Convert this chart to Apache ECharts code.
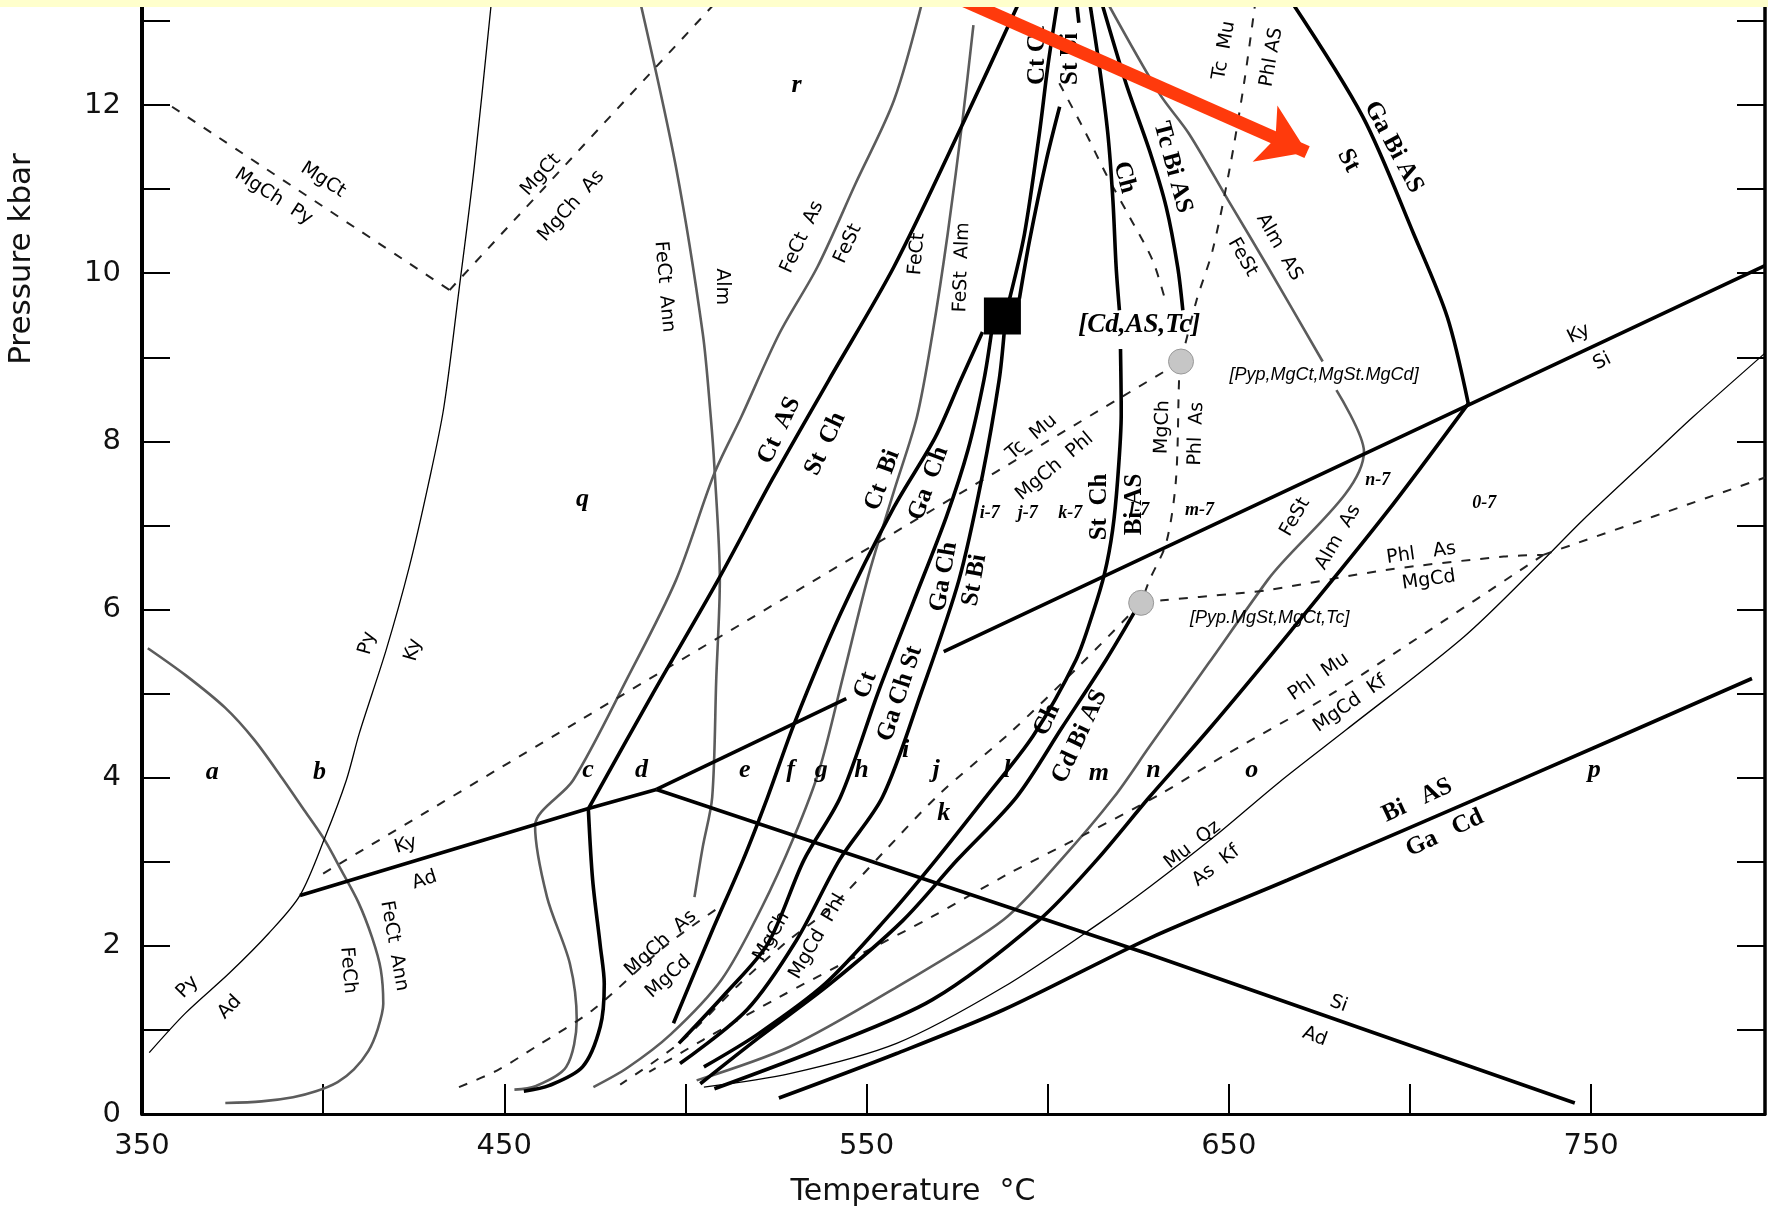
<!DOCTYPE html>
<html><head><meta charset="utf-8">
<script src="https://cdn.jsdelivr.net/npm/echarts/dist/echarts.min.js"></script>
<style>html,body{margin:0;padding:0;background:#fff}#c{width:1768px;height:1210px}</style>
</head><body><div id="c"></div>
<script>
// ---- axis ranges ----
const T_MIN = 350, T_MAX = 798, P_MIN = 0, P_MAX = 13.25;

// ---- thick reaction curves [T degC, P kbar] ----
const kyAd = [[393.6,2.60],[473,3.63],[492,3.86]];
const siAd = [[492,3.86],[628,1.9],[745.5,0.13]];
const kySi1 = [[492,3.86],[544.4,4.94]];
const kySi2 = [[571.3,5.50],[795.5,10.04],[798,10.09]];
const gaBiAS = [[667,13.25],[687,11.86],[701,10.47],[710.3,9.48],[716.1,8.45]];
const almAS = [[716.1,8.45],[693.3,7.14],[667.2,5.75],[644.4,4.57],[628.1,3.77],[613.5,3.02],[597.7,2.31],[568.2,1.36],[538.6,0.80],[508,0.30]];
const biASGaCd = [[794.4,5.18],[730.3,3.97],[666.1,2.78],[628.1,2.09],[587.8,1.24],[558.3,0.72],[525.8,0.19]];
const cLine = [[473.2,3.63],[474.4,2.78],[476.5,2.0],[477.6,1.55],[476.5,1.04],[471.6,0.56],[462.5,0.34],[455.4,0.27]];
const ctAS = [[473.2,3.63],[491,5.0],[509,6.35],[524,7.55],[539.6,8.73],[557.6,10.08],[576.6,11.78],[592.4,13.25]];
const ctBiGaCh = [[582,9.3],[576,8.73],[569,8.05],[557.6,7.22],[542.8,5.95],[530.1,4.65],[522.7,3.77],[515.9,3.02],[507.1,2.15],[496.7,1.08]];
const ctGaChSt = [[584.5,9.3],[582.4,8.73],[578,7.9],[572,7.1],[563,6.1],[553.4,5.04],[542.8,3.77],[532.7,3.02],[522.8,2.03],[511,1.43],[498.2,0.84]];
const gaChStBi = [[588,9.3],[586.6,8.73],[582,7.6],[575.5,6.35],[565,5.0],[554.4,3.77],[542.5,3.02],[530.7,2.07],[517,1.24],[498.5,0.60]];
const sqUp1 = [[589.5,9.7],[593.6,10.47],[597.7,11.66],[600,12.45],[602.8,13.25]];
const sqUp2 = [[592.2,9.7],[595,10.39],[599.6,11.34],[603.3,11.98]];
const sqStub = [[607.9,13.25],[608.6,12.98]];
const chUpper = [[611.5,13.25],[614.3,12.45],[616.6,11.66],[618,10.87],[618.9,10.07],[619.8,9.56]];
const chLower = [[620.1,9.10],[620.3,8.33],[619.3,7.54],[617.9,6.94],[615.7,6.43],[612.4,5.95],[607.8,5.40],[596,4.5],[582.9,3.77],[569.1,3.02],[556,2.35],[538.6,1.55],[520,0.95],[505.1,0.56]];
const chCdBiAS = [[625.3,6.07],[616.1,5.40],[604,4.6],[591.4,3.77],[575,3.02],[560,2.3],[540,1.55],[520,0.9],[504.1,0.36]];
const tcBiAS = [[614.7,13.25],[621.6,12.26],[628.1,11.46],[632.7,10.79],[635.9,10.07],[637.3,9.56]];

// ---- grey (Fe-system) curves ----
const gFeCtAnnLow = [[351.6,5.54],[362,5.22],[373,4.83],[381,4.45],[388.6,4.0],[395,3.6],[400.4,3.26],[405,2.9],[409.7,2.52],[413.5,2.1],[415.9,1.72],[416.6,1.31],[415,1.0],[412.5,0.75],[408.5,0.53],[404,0.38],[398,0.27],[391.7,0.20],[383,0.15],[373,0.13]];
const gFeCtAnnAlm = [[487.4,13.25],[497.4,11.26],[504.8,9.28],[507,8.29],[508,7.70],[509.5,6.35],[508.5,5.16],[507.4,3.77],[504.8,3.18],[502.5,2.58]];
const gFeCtAsFeSt = [[565.5,13.25],[557.6,12.06],[547,11.07],[536.5,10.08],[525.9,9.28],[515.4,8.29],[508,7.62],[497.4,6.35],[483.7,5.16],[469,3.97],[458.5,3.43],[461.8,2.58],[468.1,1.79],[470,1.12],[467.1,0.56],[458.6,0.33],[452.8,0.29]];
const gFeCtFeStAlm = [[579.5,12.95],[576.6,11.86],[572.4,10.47],[568.2,9.28],[563.9,8.29],[557.5,7.4],[550.5,6.4],[543.5,5.2],[537,4.1],[530,3.3],[521,2.45],[510,1.6],[496,0.95],[484,0.55],[474.6,0.32]];
const gAlmASUpper = [[616.1,13.25],[630.8,12.14],[639,11.66],[649.8,10.87],[660.7,10.08],[675.9,8.95]];
const gAlmASLower = [[679.7,8.61],[687.3,7.88],[660.7,6.35],[644.4,5.36],[628.1,4.37],[618.3,3.77],[603.6,3.02],[587.8,2.31],[558.3,1.51],[528.8,0.80],[503.1,0.40]];

// ---- thin curves ----
const pyAdKy = [[352,0.73],[362,1.2],[374.2,1.68],[385,2.15],[393.6,2.60],[400.6,3.3],[406.4,3.97],[410,4.53],[417.4,5.52],[423.8,6.51],[429.1,7.5],[433.3,8.4],[437.5,9.8],[441.7,11.26],[446.5,13.25]];
const muQzAsKf = [[798,9.05],[778.1,8.29],[769.4,7.94],[747.6,7.06],[736.8,6.59],[715,5.68],[682.4,4.57],[664,3.95],[646,3.3],[628.1,2.70],[614.3,2.27],[587.8,1.51],[558.3,0.84],[528.8,0.48],[505.1,0.32]];

// ---- dashed (Mg-system) curves ----
const dMgCtPy = [[358.3,11.98],[434.9,9.80]];
const dMgCtAs = [[434.9,9.80],[509,13.25]];
const dTcMuPhl = [[400,2.86],[470,4.66],[547,6.64],[636.8,8.95]];
const dTcMuPhlAS = [[636.8,8.95],[641.1,9.68],[645.5,10.27],[650.3,11.26],[654.2,12.26],[657.4,13.25]];
const dMgChPhlAs = [[636.8,8.95],[636.3,8.77],[635.4,7.54],[632.7,6.79],[628.1,6.35],[625.8,6.08]];
const dCh = [[603.2,12.26],[610.6,11.66],[616.1,11.18],[622.6,10.67],[629,10.15],[632.7,9.64]];
const dPhlAsMgCd = [[625.8,6.08],[631.7,6.11],[652,6.19],[660.7,6.23],[693.3,6.47],[725.9,6.63],[736.8,6.65]];
const dUpRight = [[736.8,6.65],[798,7.57]];
const dPhlMuKf = [[736.8,6.65],[704.2,5.72],[677,4.96],[649.8,4.29],[631.3,3.81],[610,3.32],[589.3,2.86],[568.2,2.35],[547,1.87],[525.9,1.39],[504.8,0.88],[490,0.5]];
const dMgChMgCdPhl = [[625.8,6.08],[608,5.3],[590,4.55],[570,3.8],[554.4,3.1],[540,2.45],[528,2.05],[515,1.55],[498.5,0.85],[482,0.35]];
const dMgChAsMgCd = [[437.5,0.32],[448.1,0.52],[458.7,0.80],[474.5,1.24],[494.2,1.99],[509,2.45]];

// ---- point markers ----
const invariantSquare = [[587.5,9.49]];
const greyDots = [[636.8,8.95],[625.8,6.08]];
const arrowCoords = [[576.5,13.25],[671.6,11.44]];

// ---- labels [text, T, P, rotation] ----
const sansLabels = [
  ['MgCt',400,11.11,-33],['MgCh  Py',386.3,10.91,-33],
  ['MgCt',460.1,11.17,48],['MgCh  As',468.5,10.8,48],
  ['FeCt  Ann',494.2,9.84,-85],['Alm',510.1,9.84,-90],
  ['FeCt  As',532.2,10.43,65],['FeSt',544.9,10.35,65],
  ['FeCt',563.9,10.23,85],['FeSt  Alm',576.3,10.07,88],
  ['Py',412.2,5.6,75],['Ky',424.9,5.52,75],
  ['Py',362.6,1.51,46],['Ad',374.2,1.27,46],
  ['Ky',422.8,3.2,18],['Ad',428,2.78,18],
  ['FeCt  Ann',419.6,2.0,-80],['FeCh',406.9,1.71,-85],
  ['Tc  Mu',595.6,8.05,40],['MgCh  Phl',601.9,7.7,40],
  ['MgCh',631.7,8.17,88],['Phl  As',641,8.09,88],
  ['Tc  Mu',648.7,12.65,80],['Phl AS',661.8,12.57,80],
  ['Alm  AS',663.9,10.31,-60],['FeSt',653.8,10.19,-60],
  ['Ky',746.6,9.28,27],['Si',753.1,8.95,27],
  ['FeSt',668.3,7.10,60],['Alm  As',680.2,6.86,60],
  ['Phl   As',703.1,6.67,8],['MgCd',705.2,6.35,8],
  ['Phl  Mu',674.8,5.20,35],['MgCd  Kf',683.5,4.88,35],
  ['Mu  Qz',640,3.2,38],['As  Kf',646.5,2.95,38],
  ['Si',680.3,1.31,-20],['Ad',673.7,0.92,-20],
  ['MgCh  As',493.2,2.03,42],['MgCd',495.3,1.63,42],
  ['MgCh',523.8,2.11,60],['MgCd  Phl',536.5,2.11,60]
];
const serifLabels = [
  ['Ct  AS',525.9,8.13,65],['St  Ch',538.6,7.97,65],
  ['Ct  Bi',554.4,7.54,70],['Ga  Ch',567.1,7.50,70],
  ['Ct',549.7,5.10,70],['Ga Ch St',559.2,5.0,72],
  ['Ga Ch',571.3,6.39,80],['St Bi',579.8,6.35,80],
  ['St  Ch',614.3,7.22,90],['Bi AS',624,7.25,90],
  ['Ch',599.8,4.69,65],['Cd Bi AS',608.8,4.49,65],
  ['Ct Ct',597.3,12.59,90],['St Bi',606.3,12.55,90],
  ['Ch',621.2,11.14,-75],['Tc Bi AS',634.5,11.26,-75],
  ['Ga Bi AS',695.5,11.50,-62],['St',683,11.34,-62],
  ['Bi   AS',702,3.73,25],['Ga   Cd',709.6,3.34,25]
];
const fieldLabels = [
  ['a',369.4,4.07],['b',399,4.07],['c',473.1,4.09],['d',487.9,4.09],['e',516.4,4.09],
  ['f',529,4.09],['g',537.5,4.09],['h',548.6,4.09],['i',560.8,4.33],['j',569.2,4.09],
  ['k',571.3,3.58],['l',588.7,4.09],['m',614.1,4.05],['n',629.2,4.09],['o',656.3,4.09],
  ['p',750.9,4.09],['q',471.6,7.31],['r',530.7,12.23]
];
const smallFieldLabels = [
  ['i-7',584,7.14],['j-7',594.5,7.14],['k-7',606.2,7.14],['l-7',625.3,7.18],
  ['m-7',641.9,7.18],['n-7',691.1,7.54],['0-7',720.5,7.26]
];
const invariantLabels = [['[Cd,AS,Tc]',625.3,9.38]];
const pointLabels = [['[Pyp,MgCt,MgSt.MgCd]',676.3,8.79],['[Pyp.MgSt,MgCt,Tc]',661.3,5.90]];

// ---- build chart ----
const chart = echarts.init(document.getElementById('c'));
const series = [];
function addLine(data, width, color, type, smooth, z) {
  series.push({type:'line', data:data, showSymbol:false, symbol:'none', smooth: smooth,
    lineStyle:{width:width, color:color, type:type, opacity:1}, silent:true, animation:false, z:z||3});
}
const THICK = 3.6, BLK = '#000';
[kyAd, siAd, kySi1, kySi2].forEach(d => addLine(d, THICK, BLK, 'solid', false, 4));
[gaBiAS, almAS, biASGaCd, cLine, ctAS, ctBiGaCh, ctGaChSt, gaChStBi, sqUp1, sqUp2, sqStub,
 chUpper, chLower, chCdBiAS, tcBiAS].forEach(d => addLine(d, THICK, BLK, 'solid', 0.3, 4));
[gFeCtAnnLow, gFeCtAnnAlm, gFeCtAsFeSt, gFeCtFeStAlm, gAlmASUpper, gAlmASLower]
  .forEach(d => addLine(d, 2.6, '#5c5c5c', 'solid', 0.3, 3));
[pyAdKy, muQzAsKf].forEach(d => addLine(d, 1.3, BLK, 'solid', 0.3, 3));
[dMgCtPy, dMgCtAs, dTcMuPhl, dTcMuPhlAS, dMgChPhlAs, dCh, dPhlAsMgCd, dUpRight, dPhlMuKf,
 dMgChMgCdPhl, dMgChAsMgCd].forEach(d => addLine(d, 2, '#222', [9,10], 0.3, 3));

series.push({type:'scatter', data:invariantSquare, symbol:'rect', symbolSize:37,
  itemStyle:{color:'#000', opacity:1}, silent:true, z:6, animation:false});
series.push({type:'scatter', data:greyDots, symbol:'circle', symbolSize:25,
  itemStyle:{color:'#c6c6c6', borderColor:'#999', borderWidth:1, opacity:1}, silent:true, z:6, animation:false});
series.push({type:'lines', coordinateSystem:'cartesian2d', z:20, silent:true, animation:false,
  symbol:['none','arrow'], symbolSize:[1,46],
  lineStyle:{color:'#ff3a0c', width:13, opacity:1},
  data:[{coords:arrowCoords}]});

function addLabels(arr, font) {
  series.push({type:'scatter', symbolSize:1, itemStyle:{color:'rgba(0,0,0,0)', opacity:1}, silent:true, z:8, animation:false,
    data: arr.map(a => ({value:[a[1],a[2]], name:a[0], label:{rotate:a[3]||0}})),
    label: Object.assign({show:true, position:'inside', align:'center', verticalAlign:'middle',
      formatter: p => p.name, color:'#000', opacity:1}, font)});
}
addLabels(sansLabels, {fontFamily:'DejaVu Sans', fontSize:19});
addLabels(serifLabels, {fontFamily:'Liberation Serif', fontWeight:'bold', fontSize:25});
addLabels(fieldLabels, {fontFamily:'Liberation Serif', fontWeight:'bold', fontStyle:'italic', fontSize:26});
addLabels(smallFieldLabels, {fontFamily:'Liberation Serif', fontWeight:'bold', fontStyle:'italic', fontSize:18});
addLabels(invariantLabels, {fontFamily:'Liberation Serif', fontWeight:'bold', fontStyle:'italic', fontSize:27});
addLabels(pointLabels, {fontFamily:'Liberation Sans', fontStyle:'italic', fontSize:18});

chart.setOption({
  animation:false,
  backgroundColor:'#ffffff',
  grid:{left:142, right:2, top:0, bottom:96, containLabel:false},
  xAxis:{type:'value', min:T_MIN, max:T_MAX, interval:50,
    axisLine:{show:true, lineStyle:{color:'#000', width:3}},
    axisTick:{show:true, inside:true, length:30, lineStyle:{color:'#000', width:2}},
    axisLabel:{margin:18, fontSize:29, fontFamily:'DejaVu Sans', color:'#111',
      formatter: v => (v % 100 === 50 ? String(v) : '')},
    splitLine:{show:false}},
  yAxis:[
    {type:'value', min:P_MIN, max:P_MAX, interval:1, position:'left',
      axisLine:{show:true, lineStyle:{color:'#000', width:4}},
      axisTick:{show:true, inside:true, length:28, lineStyle:{color:'#000', width:2}},
      axisLabel:{margin:21, fontSize:29, fontFamily:'DejaVu Sans', color:'#111',
        formatter: v => (v % 2 === 0 ? String(v) : '')},
      splitLine:{show:false}},
    {type:'value', min:P_MIN, max:P_MAX, interval:1, position:'right',
      axisLine:{show:true, onZero:false, lineStyle:{color:'#000', width:3.5}},
      axisTick:{show:true, inside:true, length:28, lineStyle:{color:'#000', width:2}},
      axisLabel:{show:false}, splitLine:{show:false}}
  ],
  graphic:[
    {type:'rect', z:100, shape:{x:0, y:0, width:1768, height:7}, style:{fill:'#ffffcc'}},
    {type:'text', z:50, x:22, y:259, rotation:Math.PI/2,
      style:{text:'Pressure kbar', font:'31px "DejaVu Sans"', fill:'#111', textAlign:'center', textVerticalAlign:'middle'}},
    {type:'text', z:50, x:913, y:1192,
      style:{text:'Temperature  °C', font:'30px "DejaVu Sans"', fill:'#111', textAlign:'center', textVerticalAlign:'middle'}}
  ],
  series: series
});
</script></body></html>
